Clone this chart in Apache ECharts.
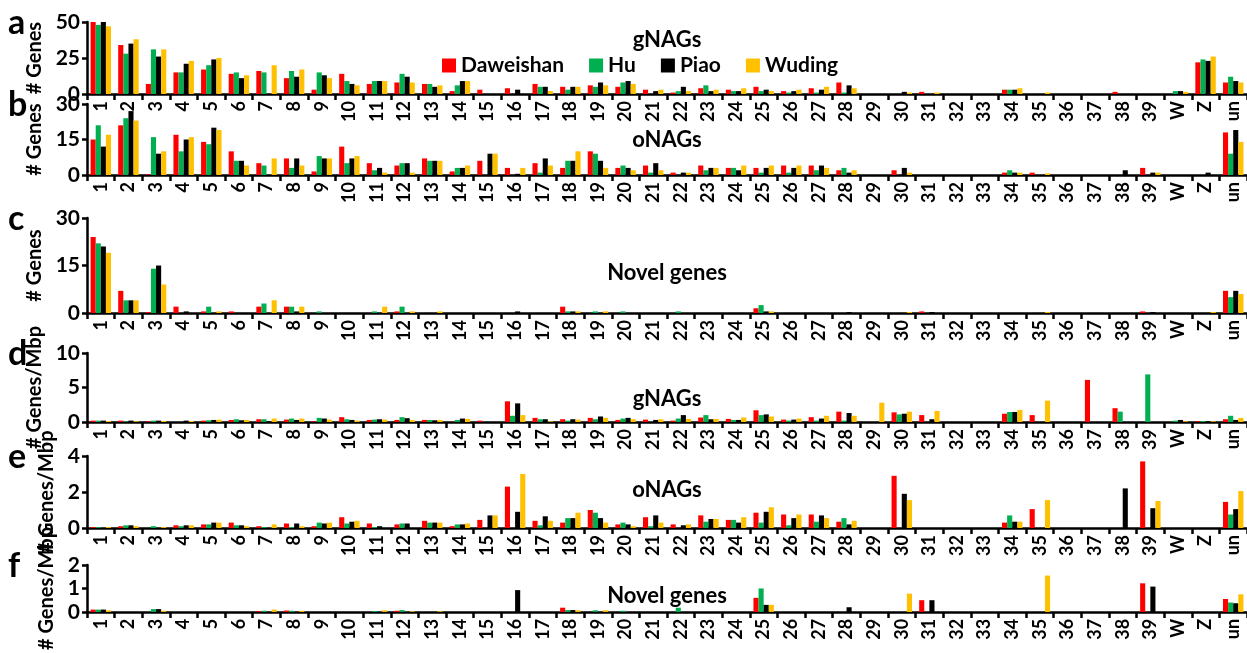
<!DOCTYPE html>
<html>
<head>
<meta charset="utf-8">
<script src="https://cdn.jsdelivr.net/npm/echarts@6/dist/echarts.min.js"></script>
<style>
  html, body { margin: 0; padding: 0; background: #ffffff; }
  #chart { width: 1247px; height: 653px; }
</style>
</head>
<body>
<div id="chart"></div>
<script>
// Chromosome categories shared by every panel
const categories = ['1','2','3','4','5','6','7','8','9','10','11','12','13','14','15','16','17','18','19','20',
  '21','22','23','24','25','26','27','28','29','30','31','32','33','34','35','36','37','38','39','W','Z','un'];
const strains = ['Daweishan', 'Hu', 'Piao', 'Wuding'];

// a: gNAGs, gene counts
const aDaweishan = [50,34,7,15,17,14,16,11,3,14, 7,8,7,2,3,4,7,5,6,5, 3,1,4,3,5,2,4,8,0,0, 1.5,0,0,3,0,0,0,1.5,0, 0,22,8];
const aHu        = [48,28,31,15,20,15,15,16,15,9, 9,14,7,6,0,0,5,3,5,8, 0,2,6,2,2,1,1,1,0,0, 0,0,0,3,0,0,0,0,0, 2,24,12];
const aPiao      = [50,35,26,21,24,11,0,12,13,7, 9,12,5,9,0,3,5,5,8,9, 2,5,2,2,3,2,3,6,0,1.5, 0,0,0,3,0,0,0,0,0, 2,23,9];
const aWuding    = [47,38,31,23,25,13,20,17,11,6, 9,8,6,9,0,0,2,5,6,7, 3,2,3,4,2,3,5,4,0,1, 1,0,0,4,1,0,0,0,0, 1.5,26,8];

// b: oNAGs, gene counts
const bDaweishan = [15,21,0.3,17,14,10,5,7,1.5,12, 5,4,7,1.5,6,3,5,3,10,3, 4,1,4,3,3,4,4,2,0,2, 0,0,0,1,1,0,0,0,3, 0,0,18];
const bHu        = [21,24,16,10,13,6,4,3,8,5, 2,5,6,3,0,0,1,6,9,4, 1,0,2,3,1,1,2,3,0,0, 0,0,0,2,0,0,0,0,0, 0,0,9];
const bPiao      = [12,27,9,15,20,6,0,7,7,7, 3,5,6,3,9,0.5,7,6,6,3, 5,1,3,2,3,3,4,1,0,3, 0,0,0,1,0,0,0,2,1, 0,1,19];
const bWuding    = [17,23,10,16,19,4,7,4,7,8, 1,1,6,4,9,3,4,10,3,2, 2,1,3,4,4,4,3,2,0,1, 0,0,0,1,0.7,0,0,0,1, 0,0,14];

// c: novel genes, gene counts
const cDaweishan = [24,7,0.3,2,0.5,0.5,2,2,0,0, 0,0.5,0,0,0,0,0,2,0,0, 0,0,0,0,1.5,0,0,0,0,0, 0.5,0,0,0,0,0,0,0,0.5, 0,0,7];
const cHu        = [22,4,14,0,2,0,3,2,0.5,0, 0.5,2,0,0,0,0,0,0.5,0.5,0.5, 0,0.5,0,0,2.5,0,0,0,0,0, 0,0,0,0,0,0,0,0,0, 0,0,5];
const cPiao      = [21,4,15,0.5,0,0,0,0.5,0,0, 0,0,0,0,0,0.5,0,0.5,0,0, 0,0,0,0,0.5,0,0,0.3,0,0, 0.3,0,0,0,0,0,0,0,0.3, 0,0,7];
const cWuding    = [19,4,9,0,0.5,0,4,2,0,0, 2,0.5,0.5,0,0,0,0,0.5,0.5,0, 0,0,0,0,0.5,0,0,0,0,0.3, 0,0,0,0,0.3,0,0,0,0, 0,0.3,6];

// d: gNAGs, genes per Mbp
const dDaweishan = [0.2,0.2,0.1,0,0.2,0.3,0.4,0.35,0.1,0.7, 0.3,0.3,0.3,0.05,0.2,3.0,0.6,0.4,0.6,0.3, 0.35,0.2,0.65,0.45,1.7,0.35,0.7,1.5,0,1.4, 1.0,0,0,1.2,1.0,0,6.1,2.0,0, 0,0.1,0.4];
const dHu        = [0.2,0.1,0.2,0,0.25,0.4,0.4,0.5,0.6,0.4, 0.35,0.7,0.3,0.3,0,0.9,0.4,0.2,0.4,0.5, 0,0.5,1.0,0.3,1.0,0.2,0.2,0.2,0,1.1, 0,0,0,1.45,0,0,0,1.5,6.9, 0.2,0.15,0.9];
const dPiao      = [0.2,0.2,0.2,0.2,0.3,0.25,0.1,0.3,0.5,0.3, 0.4,0.55,0.25,0.5,0,2.7,0.4,0.4,0.8,0.6, 0.3,1.0,0.4,0.3,1.1,0.35,0.5,1.3,0,1.2, 0.4,0,0,1.45,0,0,0,0,0, 0.3,0.1,0.3];
const dWuding    = [0.15,0.1,0.15,0.15,0.35,0.3,0.5,0.5,0.35,0.2, 0.35,0.3,0.3,0.45,0,1.0,0.1,0.35,0.6,0.4, 0.4,0.45,0.45,0.65,0.8,0.5,0.9,0.9,2.8,1.5, 1.6,0,0,1.75,3.1,0,0,0,0, 0.1,0.1,0.6];

// e: oNAGs, genes per Mbp
const eDaweishan = [0.05,0.1,0,0.15,0.2,0.3,0.1,0.25,0.1,0.6, 0.25,0.2,0.4,0.1,0.45,2.3,0.4,0.3,1.0,0.2, 0.6,0.2,0.7,0.45,0.85,0.75,0.75,0.35,0,2.9, 0,0,0,0.3,1.05,0,0,0,3.7, 0,0,1.45];
const eHu        = [0.05,0.15,0.1,0.1,0.2,0.15,0.05,0.05,0.3,0.25, 0.05,0.25,0.3,0.2,0,0,0.15,0.55,0.85,0.3, 0.1,0,0.35,0.45,0.3,0.15,0.35,0.55,0,0, 0,0,0,0.7,0,0,0,0,0, 0,0,0.75];
const ePiao      = [0,0.15,0,0.15,0.3,0.15,0,0.25,0.25,0.35, 0.1,0.25,0.3,0.2,0.7,0.9,0.65,0.55,0.55,0.2, 0.7,0.15,0.5,0.3,0.9,0.55,0.7,0.2,0,1.9, 0,0,0,0.35,0,0,0,2.2,1.1, 0,0,1.05];
const eWuding    = [0.05,0.1,0.05,0.15,0.3,0.1,0.2,0.1,0.3,0.4, 0,0,0.3,0.25,0.7,3.0,0.4,0.85,0.3,0.1, 0.3,0.2,0.5,0.6,1.15,0.75,0.55,0.4,0,1.55, 0,0,0,0.35,1.55,0,0,0,1.5, 0,0,2.05];

// f: novel genes, genes per Mbp
const fDaweishan = [0.1,0,0,0,0,0,0.04,0.06,0,0, 0,0.05,0,0,0,0,0,0.18,0,0, 0,0,0,0,0.6,0,0,0,0,0, 0.5,0,0,0,0,0,0,0,1.22, 0,0,0.55];
const fHu        = [0.1,0,0.12,0,0,0,0.05,0.05,0,0, 0.04,0.08,0,0,0,0,0,0.08,0.07,0.05, 0,0.18,0,0,1.0,0,0,0,0,0, 0,0,0,0,0,0,0,0,0, 0,0,0.4];
const fPiao      = [0.1,0,0.12,0,0,0,0,0,0,0, 0,0,0,0,0,0.93,0,0.08,0,0, 0,0,0,0,0.3,0,0,0.2,0,0, 0.5,0,0,0,0,0,0,0,1.08, 0,0,0.37];
const fWuding    = [0.07,0,0.05,0,0,0,0.1,0.05,0,0, 0.07,0.03,0.03,0,0,0,0,0.07,0.07,0, 0,0,0,0,0.3,0,0,0,0,0.78, 0,0,0,0,1.55,0,0,0,0, 0,0,0.75];

// Panel titles, axis names and y ranges
const panelLetters = ['a', 'b', 'c', 'd', 'e', 'f'];
const panelTitles  = ['gNAGs', 'oNAGs', 'Novel genes', 'gNAGs', 'oNAGs', 'Novel genes'];
const yNames       = ['# Genes', '# Genes', '# Genes', '# Genes/Mbp', '# Genes/Mbp', '# Genes/Mbp'];
const yMax         = [50, 30, 30, 10, 4, 2];
const yStep        = [25, 15, 15, 5, 2, 1];
const panelSeries  = [
  [aDaweishan, aHu, aPiao, aWuding],
  [bDaweishan, bHu, bPiao, bWuding],
  [cDaweishan, cHu, cPiao, cWuding],
  [dDaweishan, dHu, dPiao, dWuding],
  [eDaweishan, eHu, ePiao, eWuding],
  [fDaweishan, fHu, fPiao, fWuding]
];

// ---- layout and styling ----
const FONT = 'Lato, "Liberation Sans", sans-serif';
const strainColors = ['#FF0000', '#00B050', '#000000', '#FFC000'];
const plotLeft = 87;
const plotWidth = 1168;
const panelBoxes = [
  { top: 22,  height: 72, titleTop: 24 },
  { top: 104, height: 71, titleTop: 124 },
  { top: 218, height: 95, titleTop: 257 },
  { top: 353, height: 69, titleTop: 383 },
  { top: 456, height: 72, titleTop: 474 },
  { top: 565, height: 71, titleTop: 580 }
];

const grids = [], xAxes = [], yAxes = [], series = [], titles = [], graphics = [];
panelBoxes.forEach((box, p) => {
  grids.push({ left: plotLeft, top: box.top, width: plotWidth, height: box.height, containLabel: false });
  xAxes.push({
    type: 'category', gridIndex: p, data: categories,
    axisLine: { lineStyle: { color: '#000', width: 2.5 } },
    axisTick: { show: true, length: 6, lineStyle: { color: '#000', width: 2.5 } },
    axisLabel: {
      interval: 0, rotate: 90, margin: 7,
      fontFamily: FONT, fontWeight: 'bold', fontSize: 18, color: '#000'
    },
    splitLine: { show: false }
  });
  yAxes.push({
    type: 'value', gridIndex: p, min: 0, max: yMax[p], interval: yStep[p],
    name: yNames[p], nameLocation: 'middle', nameGap: 27, nameRotate: 90,
    nameTextStyle: { fontFamily: FONT, fontWeight: 'bold', fontSize: 20, color: '#000' },
    axisLine: { show: true, lineStyle: { color: '#000', width: 2.5 } },
    axisTick: { show: true, length: 5, lineStyle: { color: '#000', width: 2.5 } },
    axisLabel: { margin: 7, fontFamily: FONT, fontWeight: 'bold', fontSize: 21, color: '#000' },
    splitLine: { show: false }
  });
  panelSeries[p].forEach((vals, s) => {
    series.push({
      type: 'bar', name: strains[s], xAxisIndex: p, yAxisIndex: p,
      data: vals, barGap: '0%', barCategoryGap: '26%',
      itemStyle: { color: strainColors[s] },
      emphasis: { disabled: true },
      animation: false
    });
  });
  titles.push({
    text: panelTitles[p], left: 662, top: box.titleTop, textAlign: 'center',
    textStyle: { fontFamily: FONT, fontWeight: 'bold', fontSize: 22, color: '#000' }
  });
  graphics.push({
    type: 'text', left: 8, top: box.top - 16,
    style: { text: panelLetters[p], font: 'bold 34px ' + FONT, fill: '#000' }
  });
});

const chart = echarts.init(document.getElementById('chart'), null, { renderer: 'canvas' });
chart.setOption({
  backgroundColor: '#ffffff',
  animation: false,
  title: titles,
  legend: {
    data: strains, left: 437, top: 50, icon: 'rect',
    itemWidth: 14, itemHeight: 14, itemGap: 25,
    textStyle: { fontFamily: FONT, fontWeight: 'bold', fontSize: 21, color: '#000' }
  },
  grid: grids,
  xAxis: xAxes,
  yAxis: yAxes,
  series: series,
  graphic: graphics
});
</script>
</body>
</html>
